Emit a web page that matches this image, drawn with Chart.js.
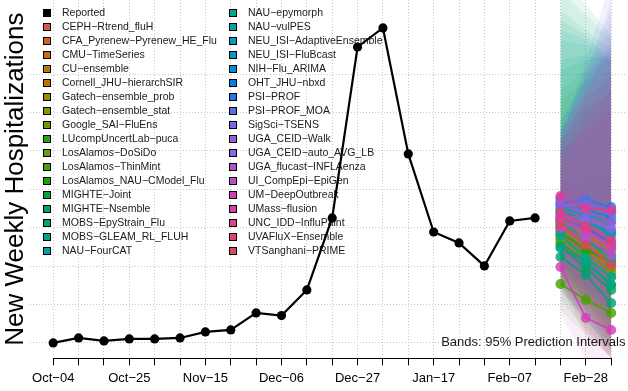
<!DOCTYPE html>
<html>
<head>
<meta charset="utf-8">
<script src="https://cdn.jsdelivr.net/npm/chart.js@4.4.1/dist/chart.umd.min.js"></script>
<style>
  html, body { margin: 0; padding: 0; background: #ffffff; }
  canvas { display: block; }
</style>
</head>
<body>
<canvas id="chart" width="628" height="391"></canvas>
<script>
// Weekly date labels (x axis, one tick per week; every third one is labelled)
const weeks = ['Oct−04','Oct−11','Oct−18','Oct−25','Nov−01','Nov−08','Nov−15','Nov−22','Nov−29',
  'Dec−06','Dec−13','Dec−20','Dec−27','Jan−03','Jan−10','Jan−17','Jan−24','Jan−31',
  'Feb−07','Feb−14','Feb−21','Feb−28','Mar−07'];

// Reported weekly hospital admissions
const reported = [2000, 2650, 2260, 2520, 2520, 2650, 3430, 3690, 5910, 5560,
  8900, 18280, 40540, 43020, 26610, 16450, 15020, 12030, 17890, 18280];

// Forecast target weeks (indices into weeks)
const horizonWeeks = [20, 21, 22];

const models = ['CEPH−Rtrend_fluH','CFA_Pyrenew−Pyrenew_HE_Flu','CMU−TimeSeries','CU−ensemble',
  'Cornell_JHU−hierarchSIR','Gatech−ensemble_prob','Gatech−ensemble_stat','Google_SAI−FluEns',
  'LUcompUncertLab−puca','LosAlamos−DoSiDo','LosAlamos−ThinMint','LosAlamos_NAU−CModel_Flu',
  'MIGHTE−Joint','MIGHTE−Nsemble','MOBS−EpyStrain_Flu','MOBS−GLEAM_RL_FLUH','NAU−FourCAT',
  'NAU−epymorph','NAU−vulPES','NEU_ISI−AdaptiveEnsemble','NEU_ISI−FluBcast','NIH−Flu_ARIMA',
  'OHT_JHU−nbxd','PSI−PROF','PSI−PROF_MOA','SigSci−TSENS','UGA_CEID−Walk','UGA_CEID−auto_AVG_LB',
  'UGA_flucast−INFLAenza','UI_CompEpi−EpiGen','UM−DeepOutbreak','UMass−flusion',
  'UNC_IDD−InfluPaint','UVAFluX−Ensemble','VTSanghani−PRIME'];

// Median forecasts per model, one value per target week
const medians = [
  [18670,17370,16450],[17760,16060,14630],[16970,15020,12550],[18020,15930,14110],
  [16060,14110,11770],[16710,14370,12030],[17240,15150,13070],[15670,13460,11250],
  [15020,12550,9550],[15410,13070,10600],[9680,7600,5910],[16450,14110,12550],
  [17240,15410,13460],[14630,11770,8900],[13200,10860,7210],[14370,12550,9550],
  [19320,17760,16450],[16060,13070,10600],[18020,15410,12810],[19580,18670,17760],
  [19060,17760,16060],[19970,19320,18410],[18280,16970,15020],[20230,20620,19710],
  [20620,20620,19060],[20880,19970,19060],[20100,19060,17760],[18800,18020,16970],
  [17760,16450,14370],[16970,15670,13460],[11900,5260,3690],[18410,16710,14760],
  [21140,19580,19320],[19060,17240,15410],[17500,14760,12160]];

// Lower bound of the 95% prediction interval
const lower95 = [
  [12160,8900,5650],[11510,7600,3690],[10860,6950,3040],[12550,9550,6950],
  [10200,6300,2390],[11250,7600,4350],[11770,8250,5000],[10460,6950,3040],
  [9550,5650,1740],[9940,6300,2390],[6300,3040,440],[10860,7600,3690],
  [11510,8250,5000],[8900,5000,1090],[7600,3690,0],[8900,5000,1090],
  [12550,9550,6300],[9550,5000,1090],[11510,7600,3690],[13460,11250,8900],
  [12550,9550,6300],[14110,12160,10200],[12160,8900,5650],[13850,11510,8250],
  [13070,10200,6950],[14110,11770,9160],[13070,9940,6560],[12550,9160,5650],
  [10860,6300,1740],[9550,4350,0],[5650,0,0],[10200,5650,1090],
  [12160,7600,2390],[9550,3690,0],[8900,3040,0]];

// Upper bound of the 95% prediction interval
const upper95 = [
  [27130,29730,32340],[25830,28430,31040],[24530,27130,28430],[28430,31040,33640],
  [23880,25830,27130],[29730,32340,34940],[27130,29730,31690],[31040,34290,36240],
  [33640,36240,37550],[34940,37550,38850],[23220,23880,24530],[37550,38850,39500],
  [41450,40800,38850],[45360,42750,40150],[47960,44710,41450],[50570,46010,42100],
  [42750,41450,39500],[44060,42100,38850],[38850,39500,38850],[29730,33640,36900],
  [28430,31690,34940],[27130,29730,32340],[31040,36240,40800],[29730,37550,45360],
  [28430,38850,49260],[27130,34940,42750],[29080,36900,46660],[27780,34290,41450],
  [28430,36240,44060],[25830,31040,34940],[23220,21270,19970],[25830,29730,33640],
  [29730,34940,40150],[27130,32340,36240],[28430,33640,37550]];

// Horizontal grid line positions
const gridValues = [2000, 7000, 12000, 17000, 22000, 27000, 32000, 37000];

// Model colours (hue wheel from red through green, blue and back to red)
const modelColors = ['#D9584A','#D2612A','#C86E10','#B97A00','#C07200','#9A8A00','#869400','#6E9A00',
  '#2AA012','#66A010','#45A200','#18A300','#00A640','#00A55A','#00A470','#00A386','#00A0A4',
  '#00A596','#00A3A8','#00A0B8','#0099C8','#008FD6','#0080E0','#2277E8','#5A70E0','#7A68E0',
  '#9A5AD8','#8A66E6','#A855D0','#C44ACC','#D43CB8','#DE3CA8','#E03C90','#DE407A','#D84860'];

const FONT = '"Liberation Sans", Arial, Helvetica, sans-serif';
Chart.defaults.font.family = FONT;
Chart.defaults.color = '#000000';

function rgba(hex, a) {
  const n = parseInt(hex.slice(1), 16);
  return `rgba(${(n >> 16) & 255},${(n >> 8) & 255},${n & 255},${a})`;
}

const datasets = [];
datasets.push({
  label: 'Reported',
  data: reported.map((y, i) => ({ x: i, y })),
  borderColor: '#000000',
  backgroundColor: '#000000',
  borderWidth: 2.2,
  pointRadius: 4.6,
  pointBorderWidth: 0,
  pointBackgroundColor: '#000000',
  fill: false,
  order: 0
});

// 95% prediction bands: an invisible lower edge plus an upper edge filled down to it
models.forEach((name, m) => {
  const lowIndex = datasets.length;
  datasets.push({
    label: name + ' (2.5%)',
    data: horizonWeeks.map((w, h) => ({ x: w, y: lower95[m][h] })),
    borderColor: 'rgba(0,0,0,0)',
    borderWidth: 0,
    pointRadius: 0,
    fill: false,
    order: 400 - m
  });
  datasets.push({
    label: name + ' (97.5%)',
    data: horizonWeeks.map((w, h) => ({ x: w, y: upper95[m][h] })),
    borderColor: 'rgba(0,0,0,0)',
    borderWidth: 0,
    pointRadius: 0,
    backgroundColor: rgba(modelColors[m], 0.09),
    fill: { target: lowIndex },
    order: 400 - m
  });
});

// Median forecast lines
models.forEach((name, m) => {
  datasets.push({
    label: name,
    data: horizonWeeks.map((w, h) => ({ x: w, y: medians[m][h] })),
    borderColor: rgba(modelColors[m], 0.82),
    backgroundColor: rgba(modelColors[m], 0.82),
    pointBackgroundColor: rgba(modelColors[m], 0.82),
    borderWidth: 2,
    pointRadius: 5,
    pointBorderWidth: 0,
    fill: false,
    order: 200 - m
  });
});

// Legend boxes, drawn under the data like a base-graphics legend
const boxLegend = {
  id: 'boxLegend',
  beforeDatasetsDraw(chart) {
    const { ctx, chartArea: a } = chart;
    const entries = [{ name: 'Reported', color: '#000000' }]
      .concat(models.map((n, m) => ({ name: n, color: modelColors[m] })));
    ctx.save();
    ctx.font = '10.5px ' + FONT;
    ctx.textAlign = 'left';
    ctx.textBaseline = 'middle';
    entries.forEach((e, i) => {
      const col = Math.floor(i / 18), row = i % 18;
      const cx = Math.round(a.left + 16.3 + col * 186.3);
      const cy = Math.round(a.top + 13.3 + row * 14);
      ctx.fillStyle = e.color;
      ctx.fillRect(cx - 3.5, cy - 3.5, 7, 7);
      ctx.strokeStyle = '#000000';
      ctx.lineWidth = 1;
      ctx.strokeRect(cx - 3.5, cy - 3.5, 7, 7);
      ctx.fillStyle = '#1a1a1a';
      ctx.fillText(e.name, cx + 15, cy + 0.5);
    });
    ctx.restore();
  }
};

// Axis line spanning first to last week, and the band note
const extras = {
  id: 'extras',
  afterDraw(chart) {
    const { ctx, chartArea: a, scales: { x } } = chart;
    ctx.save();
    ctx.strokeStyle = '#000000';
    ctx.lineWidth = 1;
    const y = Math.round(a.bottom) + 0.5;
    ctx.beginPath();
    ctx.moveTo(x.getPixelForValue(0), y);
    ctx.lineTo(x.getPixelForValue(weeks.length - 1), y);
    ctx.stroke();
    ctx.font = '13px ' + FONT;
    ctx.fillStyle = '#1a1a1a';
    ctx.textAlign = 'right';
    ctx.textBaseline = 'middle';
    ctx.fillText('Bands: 95% Prediction Intervals', a.right - 1, a.bottom - 16);
    ctx.restore();
  }
};

new Chart(document.getElementById('chart'), {
  type: 'line',
  data: { datasets },
  plugins: [boxLegend, extras],
  options: {
    responsive: false,
    animation: false,
    devicePixelRatio: 1,
    events: [],
    layout: { autoPadding: false, padding: { left: 0, right: 1.6, top: 0, bottom: 0 } },
    elements: { line: { tension: 0 } },
    plugins: { legend: { display: false }, tooltip: { enabled: false } },
    scales: {
      x: {
        type: 'linear',
        min: -0.9,
        max: 22.6,
        afterBuildTicks(scale) { scale.ticks = weeks.map((_, i) => ({ value: i })); },
        ticks: {
          autoSkip: false,
          maxRotation: 0,
          padding: 7,
          font: { size: 13, lineHeight: 0.9 },
          color: '#000000',
          callback: (v) => (Number.isInteger(v) && v % 3 === 0 ? weeks[v] : '')
        },
        grid: {
          color: '#c8c8c8',
          lineWidth: 1,
          drawTicks: true,
          tickLength: 7,
          tickColor: '#000000',
          tickWidth: 1,
          tickBorderDash: []
        },
        border: { display: false, dash: [1, 2] }
      },
      y: {
        type: 'linear',
        min: 0,
        max: 46660,
        afterBuildTicks(scale) { scale.ticks = gridValues.map(v => ({ value: v })); },
        ticks: { display: false },
        grid: { color: '#c8c8c8', lineWidth: 1, drawTicks: false },
        border: { display: false, dash: [1, 2] },
        title: {
          display: true,
          text: 'New Weekly Hospitalizations',
          font: { size: 26, lineHeight: 1 },
          color: '#000000',
          padding: { top: 3, bottom: 1.4 }
        }
      }
    }
  }
});
</script>
</body>
</html>
